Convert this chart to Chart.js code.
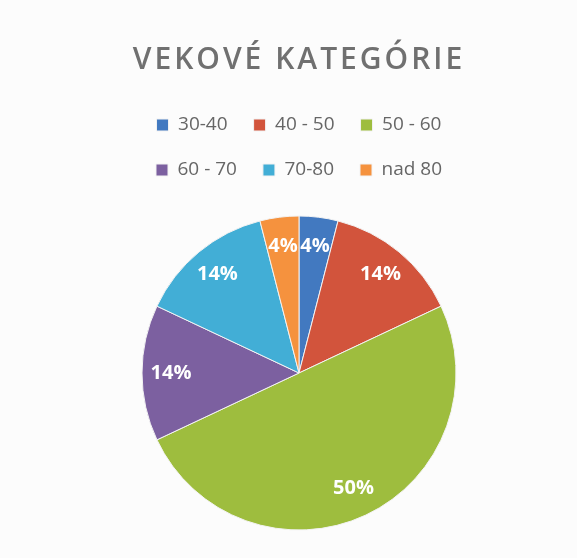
<!DOCTYPE html>
<html>
<head>
<meta charset="utf-8">
<script src="https://cdn.jsdelivr.net/npm/chart.js@4/dist/chart.umd.min.js"></script>
<style>
  body { margin: 0; background: #fcfcfc; }
  canvas { display: block; }
</style>
</head>
<body>
<canvas id="pie-chart" width="577" height="558"></canvas>
<script>
const kategorie = ["30-40", "40 - 50", "50 - 60", "60 - 70", "70-80", "nad 80"];
const podiely = [4, 14, 50, 14, 14, 4]; // v percentach, odcitane z obrazka
const farby = ["#4279c0", "#d2543c", "#9ebd3e", "#7c60a0", "#42aed6", "#f5923e"];
const nadpis = "VEKOVÉ KATEGÓRIE";

// percenta priamo do vysekov
const percentaPlugin = {
  id: "percenta",
  afterDatasetsDraw(chart) {
    const ctx = chart.ctx;
    const meta = chart.getDatasetMeta(0);
    const spolu = podiely.reduce((a, b) => a + b, 0);
    ctx.save();
    ctx.font = "bold 20px 'Open Sans'";
    ctx.fillStyle = "#ffffff";
    ctx.textAlign = "center";
    ctx.textBaseline = "middle";
    meta.data.forEach((arc, i) => {
      const { x, y, startAngle, endAngle, outerRadius } = arc.getProps(
        ["x", "y", "startAngle", "endAngle", "outerRadius"], true);
      const uhol = (startAngle + endAngle) / 2;
      const r = outerRadius * 0.815;
      const text = Math.round(podiely[i] / spolu * 100) + "%";
      ctx.fillText(text, x + Math.cos(uhol) * r, y + Math.sin(uhol) * r);
    });
    ctx.restore();
  }
};

const graf = new Chart(document.getElementById("pie-chart"), {
  type: "pie",
  data: {
    labels: kategorie,
    datasets: [{
      data: podiely,
      backgroundColor: farby,
      borderColor: "#f2f2f2",
      borderWidth: 1,
      hoverOffset: 0,
      radius: 157
    }]
  },
  options: {
    responsive: false,
    animation: false,
    layout: {
      padding: { top: 0, left: 90, right: 69, bottom: 1.5 }
    },
    plugins: {
      title: {
        display: true,
        text: nadpis,
        color: "#707070",
        font: { family: "'Open Sans'", size: 30, weight: "600" },
        padding: { top: 42, bottom: 11.5 }
      },
      legend: {
        position: "top",
        labels: {
          color: "#666666",
          font: { family: "'Open Sans'", size: 19 },
          boxWidth: 12,
          boxHeight: 12,
          padding: 26
        }
      },
      tooltip: { enabled: false }
    }
  },
  plugins: [percentaPlugin]
});

// nadpis je v originale trochu roztiahnuty
const kresliNadpis = graf.titleBlock.draw;
graf.titleBlock.draw = function (area) {
  const ctx = graf.ctx;
  ctx.save();
  ctx.letterSpacing = "3px";
  ctx.translate(0, 0);
  kresliNadpis.call(this, area);
  ctx.restore();
};
graf.draw();
</script>
</body>
</html>
